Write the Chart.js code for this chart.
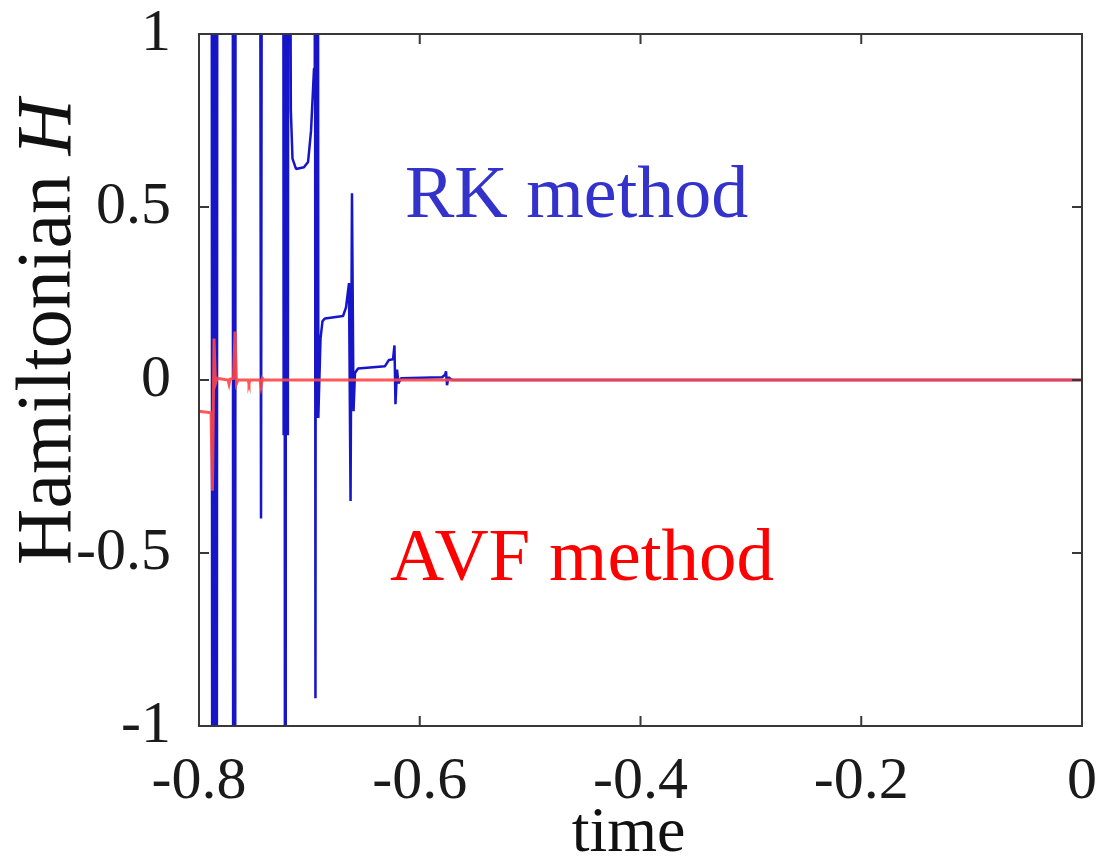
<!DOCTYPE html>
<html>
<head>
<meta charset="utf-8">
<script src="https://cdn.jsdelivr.net/npm/chart.js@4.4.1/dist/chart.umd.min.js"></script>
<style>
html,body{margin:0;padding:0;background:#fff;}
#wrap{width:1097px;height:860px;}
</style>
</head>
<body>
<div id="wrap"><canvas id="c" width="1097" height="860"></canvas></div>
<script>
// ---- data ----
const rkTime = [-0.8, -0.7887, -0.7878, -0.7869, -0.7860, -0.7851, -0.7841, -0.7832, -0.7696, -0.7688, -0.7681, -0.7674, -0.7667, -0.7452, -0.7438, -0.7425, -0.7239, -0.7233, -0.7226, -0.7220, -0.7214, -0.7207, -0.7201, -0.7195, -0.7188, -0.7168, -0.7153, -0.7121, -0.7049, -0.7012, -0.6985, -0.6958, -0.6951, -0.6945, -0.6938, -0.6932, -0.6925, -0.6919, -0.6899, -0.6881, -0.6858, -0.6695, -0.6668, -0.6641, -0.6627, -0.6614, -0.6600, -0.6587, -0.6559, -0.6315, -0.6279, -0.6242, -0.6229, -0.6220, -0.6206, -0.6193, -0.6170, -0.5798, -0.5771, -0.5762, -0.5753, -0.5740, -0.5708, 0];
const rkH = [3, 3, -3, 3, -3, 3, -3, 3, 3, -3, 3, -3, 3, 3, -0.40, 3, 3, -0.16, 3, -3, 3, -0.16, 3, -0.16, 3, 0.78, 0.64, 0.61, 0.615, 0.63, 0.72, 0.9, 3, -0.92, 3, -0.11, 3, -0.11, 0.12, 0.17, 0.178, 0.185, 0.21, 0.28, -0.35, 0.54, -0.09, 0.02, 0.033, 0.04, 0.058, 0.06, 0.10, -0.07, 0.03, -0.01, 0.005, 0.008, 0.015, 0.025, -0.015, 0.008, 0, 0];

const avfTime = [-0.8, -0.7891, -0.7878, -0.7864, -0.7851, -0.7837, -0.7737, -0.7728, -0.7719, -0.7687, -0.7674, -0.7660, -0.7647, -0.7556, -0.7547, -0.7538, -0.7447, -0.7438, -0.7425, -0.7411, 0];
const avfH = [-0.09, -0.095, -0.32, 0.12, -0.01, 0.005, 0, -0.012, 0.002, 0.005, 0.14, -0.01, 0, 0, -0.01, 0, 0, -0.018, 0.005, 0, 0];

const xTickValues = [-0.8, -0.6, -0.4, -0.2, 0];
const xTickLabels = ['-0.8', '-0.6', '-0.4', '-0.2', '0'];
const yTickValues = [-1, -0.5, 0, 0.5, 1];
const yTickLabels = ['-1', '-0.5', '0', '0.5', '1'];

const xTitle = 'time';
const yTitleMain = 'Hamiltonian ';
const yTitleItalic = 'H';
const rkLabel = 'RK method';
const avfLabel = 'AVF method';
const rkLabelAt = [-0.6134, 0.471];
const avfLabelAt = [-0.6270, -0.578];

// ---- chart ----
const SERIF = '"Liberation Serif", "Times New Roman", serif';
const toPts = (xs, ys) => xs.map((v, i) => ({x: v, y: ys[i]}));

const overlay = {
  id: 'overlay',
  afterDatasetsDraw(chart) {
    const {ctx, chartArea: a, scales: {x, y}} = chart;
    const tl = 10;
    ctx.save();
    ctx.strokeStyle = '#383838';
    ctx.lineWidth = 2;
    ctx.strokeRect(a.left, a.top, a.right - a.left, a.bottom - a.top);
    ctx.beginPath();
    xTickValues.forEach(v => {
      const px = x.getPixelForValue(v);
      ctx.moveTo(px, a.bottom); ctx.lineTo(px, a.bottom - tl);
      ctx.moveTo(px, a.top); ctx.lineTo(px, a.top + tl);
    });
    yTickValues.forEach(v => {
      const py = y.getPixelForValue(v);
      ctx.moveTo(a.left, py); ctx.lineTo(a.left + tl, py);
      ctx.moveTo(a.right, py); ctx.lineTo(a.right - tl, py);
    });
    ctx.stroke();

    ctx.textAlign = 'left';
    ctx.textBaseline = 'alphabetic';
    ctx.font = '74px ' + SERIF;
    ctx.fillStyle = 'rgb(51,51,204)';
    ctx.fillText(rkLabel, x.getPixelForValue(rkLabelAt[0]), y.getPixelForValue(rkLabelAt[1]));
    ctx.font = '75px ' + SERIF;
    ctx.fillStyle = '#ff0000';
    ctx.fillText(avfLabel, x.getPixelForValue(avfLabelAt[0]), y.getPixelForValue(avfLabelAt[1]));

    // x title
    ctx.fillStyle = '#111';
    ctx.font = '64px ' + SERIF;
    ctx.textAlign = 'center';
    ctx.fillText(xTitle, (a.left + a.right) / 2 - 12, 851);

    // y title (rotated, with italic H)
    ctx.translate(70, 332);
    ctx.rotate(-Math.PI / 2);
    const fN = '78px ' + SERIF, fI = 'italic 78px ' + SERIF;
    ctx.font = fN; const w1 = ctx.measureText(yTitleMain).width;
    ctx.font = fI; const w2 = ctx.measureText(yTitleItalic).width;
    const sx = -(w1 + w2) / 2;
    ctx.textAlign = 'left';
    ctx.font = fN; ctx.fillText(yTitleMain, sx, 0);
    ctx.font = fI; ctx.fillText(yTitleItalic, sx + w1, 0);
    ctx.restore();
  }
};

const zeroPad = s => { s.paddingLeft = 0; s.paddingRight = 0; s.paddingTop = 0; s.paddingBottom = 0; };

new Chart(document.getElementById('c'), {
  type: 'line',
  data: {
    datasets: [
      {
        label: 'AVF method',
        data: toPts(avfTime, avfH),
        borderColor: 'rgba(255,70,70,0.9)',
        borderWidth: 3,
        pointRadius: 0,
        tension: 0,
        order: 0
      },
      {
        label: 'RK method',
        data: toPts(rkTime, rkH),
        borderColor: 'rgb(22,22,200)',
        borderWidth: 2.5,
        borderJoinStyle: 'bevel',
        pointRadius: 0,
        tension: 0,
        order: 1
      }
    ]
  },
  options: {
    responsive: false,
    animation: false,
    events: [],
    layout: {padding: {top: 34, right: 15, left: 0, bottom: 0}},
    plugins: {legend: {display: false}, tooltip: {enabled: false}},
    scales: {
      x: {
        type: 'linear', min: -0.8, max: 0,
        afterBuildTicks: s => { s.ticks = xTickValues.map(v => ({value: v})); },
        afterFit: s => { s.height = 134; zeroPad(s); },
        grid: {display: false, drawTicks: false},
        border: {display: false},
        ticks: {
          callback: (v, i) => xTickLabels[i],
          font: {family: SERIF, size: 60, lineHeight: 1},
          color: '#1a1a1a', padding: 26, maxRotation: 0
        }
      },
      y: {
        type: 'linear', min: -1, max: 1,
        afterBuildTicks: s => { s.ticks = yTickValues.map(v => ({value: v})); },
        afterFit: s => { s.width = 199; zeroPad(s); },
        grid: {display: false, drawTicks: false},
        border: {display: false},
        ticks: {
          callback: (v, i) => yTickLabels[i],
          font: {family: SERIF, size: 60, lineHeight: 1},
          color: '#1a1a1a', padding: 28
        }
      }
    }
  },
  plugins: [overlay]
});
</script>
</body>
</html>
